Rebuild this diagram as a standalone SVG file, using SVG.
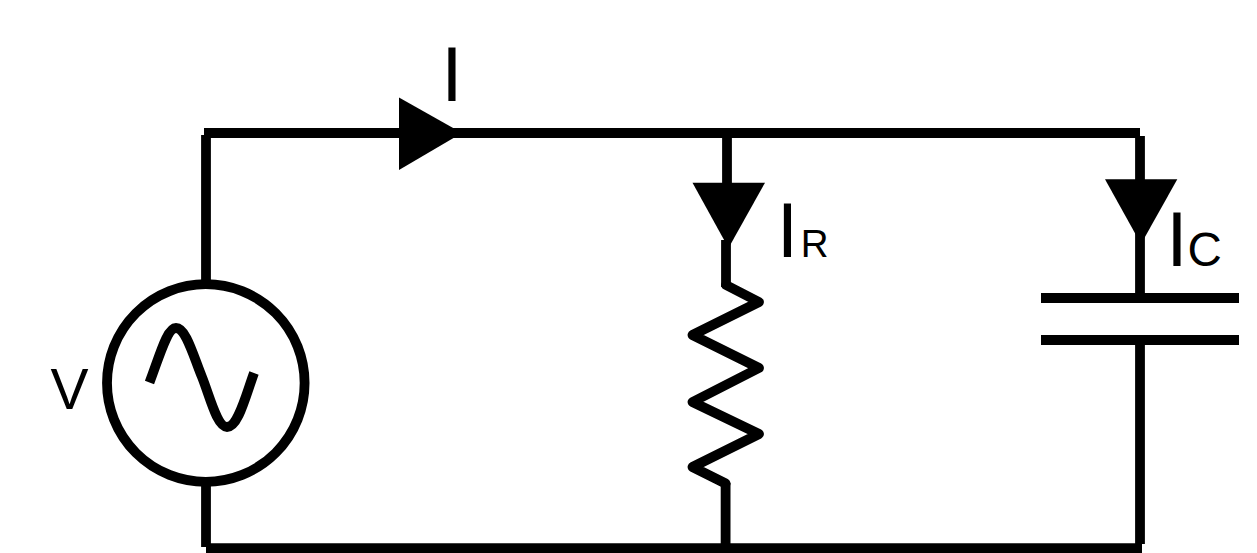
<svg xmlns="http://www.w3.org/2000/svg" width="1257" height="553" viewBox="0 0 1257 553">
<style>
.w{fill:none;stroke:#000;stroke-width:9.8;stroke-linecap:butt}
.j{stroke-linejoin:round;stroke-linecap:round}
.a{fill:#000;stroke:none}
.t{font-family:"Liberation Sans",Arial,sans-serif;fill:#000}
.b{font-size:77px}
.v{font-size:57px}
</style>
<rect width="1257" height="553" fill="#fff"/>
<g id="connectors">
<path class="w" d="M204 133H1140"/>
<path class="w" d="M206 135V281"/>
<path class="w" d="M206 485V547"/>
<path class="w" d="M206 548.2H1142"/>
<path class="w" d="M727 137V184"/>
<path class="w" d="M726 240V287"/>
<path class="w" d="M725.6 483V544"/>
<path class="w" d="M1140 136V294"/>
<path class="w" d="M1140 345V544"/>
</g>
<g id="source">
<circle class="w" cx="205.8" cy="383" r="98.8"/>
<path class="w" d="M149.5 382.5C160 355 167 328 176 328C186 328 193 355 202 377C210 397 217 427 227 427C238 427 245 398 254 373"/>
</g>
<g id="label-v"><text class="t v" x="50.5" y="409">V</text></g>
<g id="arrow-i"><polygon class="a" points="399,97.5 462,133 399,170"/></g>
<g id="label-i"><text class="t b" x="441.2" y="101">I</text></g>
<g id="arrow-ir"><polygon class="a" points="692.5,182.7 765,182.7 728.5,248"/></g>
<g id="label-ir"><text class="t" x="776.8" y="256.7"><tspan class="b">I</tspan><tspan font-size="38.5" dx="2.5">R</tspan></text></g>
<g id="resistor"><path class="w j" d="M726 285L759 302L692.5 335L759 368L692.5 402L759 434L692.5 467L725.6 483.5"/></g>
<g id="arrow-ic"><polygon class="a" points="1105,179.3 1177.3,179.3 1141,244"/></g>
<g id="label-ic"><text class="t" x="1166.2" y="266"><tspan class="b">I</tspan><tspan font-size="47.5">C</tspan></text></g>
<g id="capacitor">
<path class="w" d="M1041 298H1239"/>
<path class="w" d="M1041 340H1239"/>
</g>
</svg>
